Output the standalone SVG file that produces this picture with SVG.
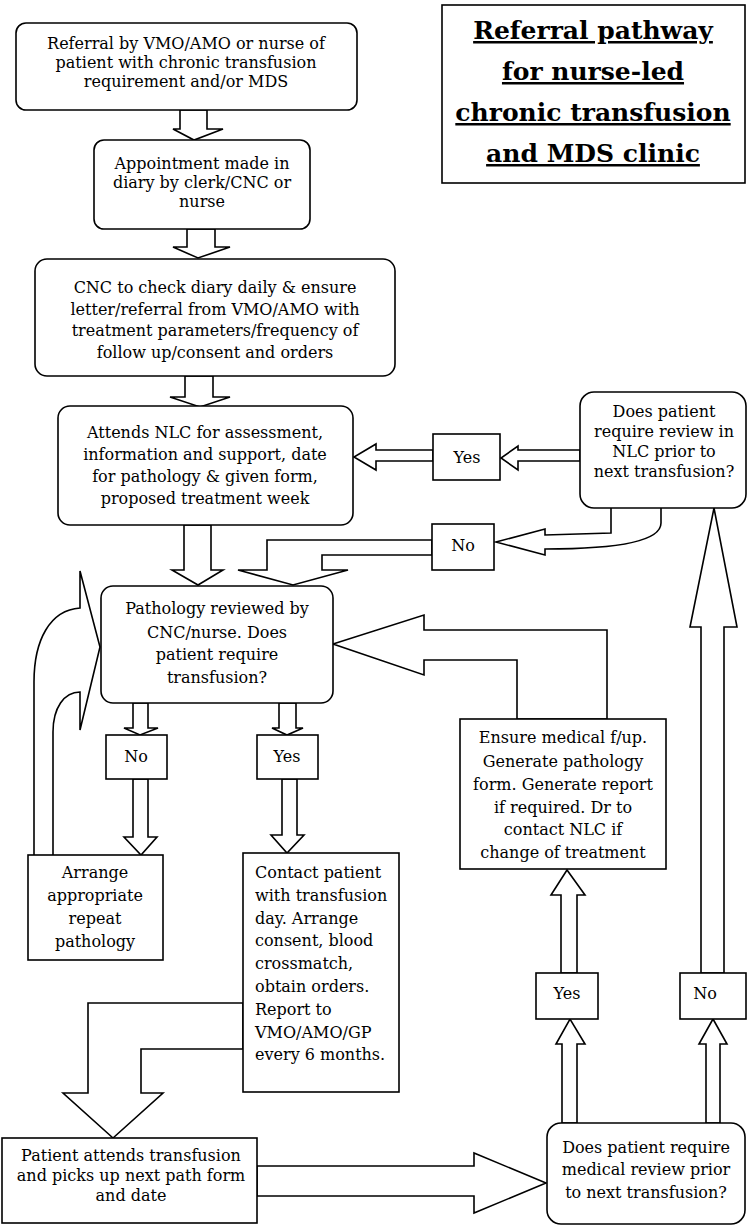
<svg xmlns="http://www.w3.org/2000/svg" width="748" height="1226" viewBox="0 0 748 1226">
<style>
.n{fill:#fff;stroke:#000;stroke-width:1.6}
.a{fill:#fff;stroke:#000;stroke-width:1.6;stroke-linejoin:miter}
text{font-family:"DejaVu Serif","Liberation Serif",serif;font-size:16px;fill:#000}
.c{text-anchor:middle}
.l{text-anchor:start}
.t{font-size:25px;font-weight:bold;text-anchor:middle;text-decoration:underline}
</style>
<rect width="748" height="1226" fill="#fff"/>
<g id="connectors">
<polygon class="a" points="180,110 180,129 173,129 194,140 223,129 207,129 207,110"/>
<polygon class="a" points="187,229 187,247 173,247 198,258 230,247 215,247 215,229"/>
<polygon class="a" points="185,376 185,397 170,397 200,407 230,397 213,397 213,376"/>
<polygon class="a" points="184,525 184,570 172,570 198,585 223,570 211,570 211,525"/>
<polygon class="a" points="580,450 518,450 518,446 501,458 518,470 518,461 580,461"/>
<polygon class="a" points="433,450 376,450 376,444 354,457 376,470 376,461 433,461"/>
<path class="a" d="M611,508 L611,533 L545,535 L545,529 L496,542 L545,555 L545,549 C600,549 661,545 661,523 L661,508"/>
<polygon class="a" points="432,540 267,540 267,570 238,570 293,585 348,570 322,570 322,555 432,555"/>
<polygon class="a" points="517,719 517,660 424,660 424,675 333,644 424,615 424,630 607,630 607,719"/>
<path class="a" d="M34,855 L34,682 C34,640 50,610 80,608 L80,571 L100,647 L80,730 L80,692 C64,692 53,708 53,732 L53,855"/>
<polygon class="a" points="133,703 133,728 124,728 140,735 158,728 148,728 148,703"/>
<polygon class="a" points="133,779 133,837 124,837 141,855 157,837 148,837 148,779"/>
<polygon class="a" points="279,703 279,728 272,728 287,735 303,728 296,728 296,703"/>
<polygon class="a" points="282,779 282,835 271,835 287,853 304,835 297,835 297,779"/>
<polygon class="a" points="243,1003 88,1003 88,1093 63,1093 113,1138 163,1093 141,1093 141,1049 243,1049"/>
<polygon class="a" points="257,1166 474,1166 474,1153 546,1183 474,1213 474,1196 257,1196"/>
<polygon class="a" points="562,1123 562,1044 556,1044 570,1019 585,1044 577,1044 577,1123"/>
<polygon class="a" points="706,1123 706,1044 699,1044 713,1019 727,1044 720,1044 720,1123"/>
<polygon class="a" points="561,973 561,895 551,895 567,870 585,895 577,895 577,973"/>
<polygon class="a" points="701,973 701,627 690,627 714,508 737,627 724,627 724,973"/>
</g>
<g id="title">
<rect class="n" x="442" y="5" width="303" height="178"/>
<text class="t" x="593" y="39">Referral pathway</text>
<text class="t" x="593" y="80">for nurse-led</text>
<text class="t" x="593" y="121">chronic transfusion</text>
<text class="t" x="593" y="162">and MDS clinic</text>
</g>
<g id="referral">
<rect class="n" x="16" y="23" width="341" height="87" rx="10"/>
<text class="c" x="186" y="49">Referral by VMO/AMO or nurse of</text>
<text class="c" x="186" y="68">patient with chronic transfusion</text>
<text class="c" x="186" y="87">requirement and/or MDS</text>
</g>
<g id="appointment">
<rect class="n" x="94" y="140" width="216" height="89" rx="10"/>
<text class="c" x="202" y="169">Appointment made in</text>
<text class="c" x="202" y="188">diary by clerk/CNC or</text>
<text class="c" x="202" y="207">nurse</text>
</g>
<g id="cnc-check">
<rect class="n" x="35" y="259" width="360" height="117" rx="12"/>
<text class="c" x="215" y="293">CNC to check diary daily &amp; ensure</text>
<text class="c" x="215" y="314.5">letter/referral from VMO/AMO with</text>
<text class="c" x="215" y="336">treatment parameters/frequency of</text>
<text class="c" x="215" y="357.5">follow up/consent and orders</text>
</g>
<g id="attends-nlc">
<rect class="n" x="58" y="406" width="295" height="119" rx="12"/>
<text class="c" x="205" y="438">Attends NLC for assessment,</text>
<text class="c" x="205" y="460">information and support, date</text>
<text class="c" x="205" y="482">for pathology &amp; given form,</text>
<text class="c" x="205" y="504">proposed treatment week</text>
</g>
<g id="review-nlc">
<rect class="n" x="580" y="392" width="166" height="116" rx="14"/>
<text class="c" x="664" y="417">Does patient</text>
<text class="c" x="664" y="437">require review in</text>
<text class="c" x="664" y="457">NLC prior to</text>
<text class="c" x="664" y="477">next transfusion?</text>
</g>
<g id="yes-nlc">
<rect class="n" x="433" y="434" width="67" height="46"/>
<text class="c" x="467" y="463">Yes</text>
</g>
<g id="no-nlc">
<rect class="n" x="432" y="524" width="62" height="46"/>
<text class="c" x="463" y="551">No</text>
</g>
<g id="pathology">
<rect class="n" x="101" y="586" width="232" height="117" rx="12"/>
<text class="c" x="217" y="614">Pathology reviewed by</text>
<text class="c" x="217" y="638">CNC/nurse. Does</text>
<text class="c" x="217" y="660">patient require</text>
<text class="c" x="217" y="683">transfusion?</text>
</g>
<g id="no-transfusion">
<rect class="n" x="106" y="735" width="61" height="44"/>
<text class="c" x="136" y="762">No</text>
</g>
<g id="yes-transfusion">
<rect class="n" x="257" y="735" width="61" height="44"/>
<text class="c" x="287" y="762">Yes</text>
</g>
<g id="repeat-pathology">
<rect class="n" x="28" y="855" width="135" height="105"/>
<text class="c" x="95" y="878">Arrange</text>
<text class="c" x="95" y="901">appropriate</text>
<text class="c" x="95" y="924">repeat</text>
<text class="c" x="95" y="947">pathology</text>
</g>
<g id="contact-patient">
<rect class="n" x="243" y="853" width="156" height="239"/>
<text class="l" x="255" y="878">Contact patient</text>
<text class="l" x="255" y="900.8">with transfusion</text>
<text class="l" x="255" y="923.6">day. Arrange</text>
<text class="l" x="255" y="946.4">consent, blood</text>
<text class="l" x="255" y="969.2">crossmatch,</text>
<text class="l" x="255" y="992">obtain orders.</text>
<text class="l" x="255" y="1014.8">Report to</text>
<text class="l" x="255" y="1037.6">VMO/AMO/GP</text>
<text class="l" x="255" y="1060.4">every 6 months.</text>
</g>
<g id="ensure-followup">
<rect class="n" x="460" y="719" width="206" height="150"/>
<text class="c" x="563" y="743">Ensure medical f/up.</text>
<text class="c" x="563" y="767">Generate pathology</text>
<text class="c" x="563" y="790">form. Generate report</text>
<text class="c" x="563" y="813">if required. Dr to</text>
<text class="c" x="563" y="835">contact NLC if</text>
<text class="c" x="563" y="858">change of treatment</text>
</g>
<g id="yes-medical">
<rect class="n" x="536" y="973" width="62" height="46"/>
<text class="c" x="567" y="999">Yes</text>
</g>
<g id="no-medical">
<rect class="n" x="680" y="973" width="66" height="46"/>
<text class="c" x="705" y="999">No</text>
</g>
<g id="attends-transfusion">
<rect class="n" x="2" y="1138" width="255" height="85"/>
<text class="c" x="131" y="1161">Patient attends transfusion</text>
<text class="c" x="131" y="1181">and picks up next path form</text>
<text class="c" x="131" y="1201">and date</text>
</g>
<g id="medical-review">
<rect class="n" x="547" y="1123" width="198" height="101" rx="14"/>
<text class="c" x="646" y="1153">Does patient require</text>
<text class="c" x="646" y="1175">medical review prior</text>
<text class="c" x="646" y="1198">to next transfusion?</text>
</g>
</svg>
